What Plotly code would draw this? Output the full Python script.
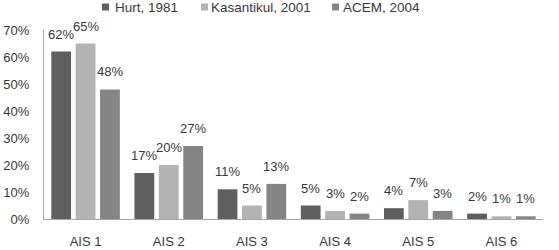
import plotly.graph_objects as go

categories = ["AIS 1", "AIS 2", "AIS 3", "AIS 4", "AIS 5", "AIS 6"]
hurt_1981 = [62, 17, 11, 5, 4, 2]
kasantikul_2001 = [65, 20, 5, 3, 7, 1]
acem_2004 = [48, 27, 13, 2, 3, 1]
y_ticks = [0, 10, 20, 30, 40, 50, 60, 70]

series = [
    ("Hurt, 1981", hurt_1981, "#5f5f5f"),
    ("Kasantikul, 2001", kasantikul_2001, "#b3b3b3"),
    ("ACEM, 2004", acem_2004, "#858585"),
]

font_family = "Liberation Sans, Arial, sans-serif"
text_color = "#383838"

W, H = 559, 250
ML, MR, MT, MB = 44, 16, 30, 31
plot_w = W - ML - MR
plot_h = H - MT - MB
BARGAP, BARGROUPGAP = 0.12, 0.19

fig = go.Figure()
for name, vals, color in series:
    fig.add_trace(go.Bar(
        x=categories, y=vals, name=name,
        marker=dict(color=color, line=dict(width=0)),
        showlegend=False,
    ))

# value labels above bars (pixel offsets within each group)
cat_w = plot_w / len(categories)
slot_w = cat_w * (1 - BARGAP) / len(series)
for i, (name, vals, color) in enumerate(series):
    dx = (i - (len(series) - 1) / 2) * slot_w
    for c, v in zip(categories, vals):
        fig.add_annotation(
            x=c, y=v, xref="x", yref="y", xanchor="center", yanchor="bottom",
            xshift=dx, yshift=8, text=f"{v}%", showarrow=False,
            font=dict(size=13, color=text_color, family=font_family),
        )

# legend: coloured squares + text
legend_sq_px = [102, 201, 332]
legend_txt_px = [113, 209, 341]
sq = 7
cy = 7
for (name, vals, color), sx, tx in zip(series, legend_sq_px, legend_txt_px):
    fig.add_shape(
        type="rect", xref="paper", yref="paper",
        x0=(sx - ML) / plot_w, x1=(sx + sq - ML) / plot_w,
        y0=(H - MB - (cy + sq / 2)) / plot_h, y1=(H - MB - (cy - sq / 2)) / plot_h,
        fillcolor=color, line=dict(width=0),
    )
    fig.add_annotation(
        x=(tx - ML) / plot_w, xref="paper", xanchor="left",
        y=(H - MB - cy) / plot_h, yref="paper", yanchor="middle",
        text=name, showarrow=False, align="left",
        font=dict(size=13.5, color=text_color, family=font_family),
    )

fig.update_layout(
    width=W, height=H,
    margin=dict(l=ML, r=MR, t=MT, b=MB, autoexpand=False),
    paper_bgcolor="white", plot_bgcolor="white",
    barmode="group", bargap=BARGAP, bargroupgap=BARGROUPGAP,
    font=dict(family=font_family, size=13, color=text_color),
    xaxis=dict(showline=True, linecolor="#a6a6a6", linewidth=1, ticks="",
               ticklabelstandoff=10,
               tickfont=dict(size=13, color=text_color), showgrid=False),
    yaxis=dict(range=[0, 70], tickvals=y_ticks, ticktext=[f"{t}%" for t in y_ticks],
               showline=True, linecolor="#a6a6a6", linewidth=1, showgrid=False,
               zeroline=False, ticks="", ticklabelstandoff=11,
               tickfont=dict(size=13, color=text_color)),
)

fig.write_html("out.html")
